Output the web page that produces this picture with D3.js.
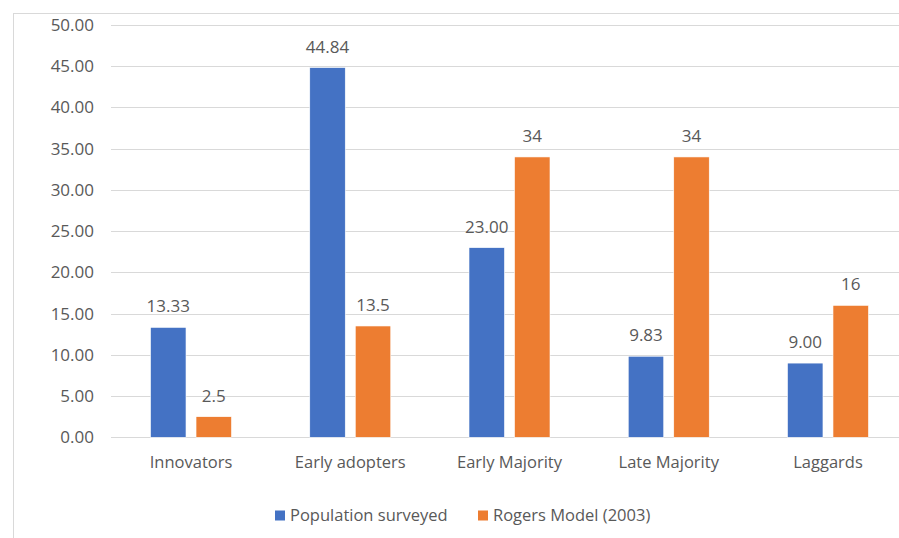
<!DOCTYPE html>
<html>
<head>
<meta charset="utf-8">
<script src="https://cdn.jsdelivr.net/npm/d3@7"></script>
<style>
  body { margin: 0; background: #fff; }
  text { font-family: "Open Sans", "Noto Sans", sans-serif; fill: #595959; }
</style>
</head>
<body>
<script>
	// data
	var categories = ["Innovators", "Early adopters", "Early Majority", "Late Majority", "Laggards"];
	var seriesNames = ["Population surveyed", "Rogers Model (2003)"];
	var surveyed = [13.33, 44.84, 23.00, 9.83, 9.00];
	var rogers = [2.5, 13.5, 34, 34, 16];
	var yTicks = [0, 5, 10, 15, 20, 25, 30, 35, 40, 45, 50];
	var colors = ["#4472C4", "#ED7D31"];

	var width = 899, height = 538;

	var svg = d3.select("body")
	    .append("svg")
	    .attr("width", width)
	    .attr("height", height);

	// chart frame (runs off the right and bottom edges)
	svg.append("rect")
	    .attr("x", 13.5).attr("y", 13.5)
	    .attr("width", 1000).attr("height", 1000)
	    .attr("fill", "none")
	    .attr("stroke", "#D9D9D9");

	var x = d3.scaleBand()
	    .domain(categories)
	    .range([111.4, 907.6]);

	var y = d3.scaleLinear()
	    .domain([0, 50])
	    .range([437.3, 25]);

	// gridlines
	svg.append("g")
	    .selectAll("line")
	    .data(yTicks)
	    .enter()
	    .append("line")
	    .attr("x1", 111).attr("x2", 905)
	    .attr("y1", function(d){ return Math.round(y(d)) + 0.5; })
	    .attr("y2", function(d){ return Math.round(y(d)) + 0.5; })
	    .attr("stroke", "#D9D9D9")
	    .attr("stroke-width", 1);

	// y labels
	svg.append("g")
	    .selectAll("text")
	    .data(yTicks)
	    .enter()
	    .append("text")
	    .attr("x", 94)
	    .attr("y", function(d){ return y(d) + 6; })
	    .attr("text-anchor", "end")
	    .style("font-size", "17px")
	    .text(function(d){ return d3.format(".2f")(d); });

	// category labels
	svg.append("g")
	    .selectAll("text")
	    .data(categories)
	    .enter()
	    .append("text")
	    .attr("x", function(d){ return x(d) + x.bandwidth() / 2; })
	    .attr("y", 468)
	    .attr("text-anchor", "middle")
	    .style("font-size", "16.5px")
	    .text(function(d){ return d; });

	var sub = d3.scaleBand()
	    .domain([0, 1])
	    .range([-40.5, 40.5])
	    .paddingInner(0.22);

	var series = [surveyed, rogers];
	var labelFmt = [d3.format(".2f"), function(v){ return String(v); }];

	series.forEach(function(vals, si){
		var g = svg.append("g");
		g.selectAll("rect")
		    .data(vals)
		    .enter()
		    .append("rect")
		    .attr("x", function(d, i){ return x(categories[i]) + x.bandwidth() / 2 + sub(si); })
		    .attr("width", sub.bandwidth())
		    .attr("y", function(d){ return y(d); })
		    .attr("height", function(d){ return y(0) - y(d); })
		    .attr("fill", colors[si])
		    .attr("stroke", "#fff")
		    .attr("stroke-width", 0.6);

		g.selectAll("text")
		    .data(vals)
		    .enter()
		    .append("text")
		    .attr("x", function(d, i){ return x(categories[i]) + x.bandwidth() / 2 + sub(si) + sub.bandwidth() / 2; })
		    .attr("y", function(d){ return y(d) - 15; })
		    .attr("text-anchor", "middle")
		    .style("font-size", "17px")
		    .text(function(d){ return labelFmt[si](d); });
	});

	// legend
	var legendX = [275, 478];
	var legend = svg.append("g");
	seriesNames.forEach(function(name, i){
		legend.append("rect")
		    .attr("x", legendX[i]).attr("y", 510.5)
		    .attr("width", 10).attr("height", 10)
		    .attr("fill", colors[i]);
		legend.append("text")
		    .attr("x", legendX[i] + 15)
		    .attr("y", 521)
		    .style("font-size", "16.5px")
		    .text(name);
	});
</script>
</body>
</html>
